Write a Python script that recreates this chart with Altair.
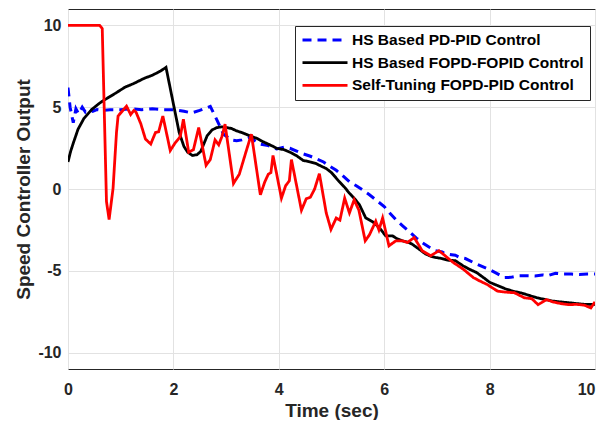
import altair as alt
import pandas as pd

# ---- data ----
names = ["HS Based PD-PID Control", "HS Based FOPD-FOPID Control", "Self-Tuning FOPD-PID Control"]
colors = ["#0000ff", "#000000", "#ff0000"]

t_pd = [0, 0.04, 0.10, 0.15, 0.20, 0.27, 0.33, 0.40, 0.47, 0.55, 0.65, 0.8, 1.0, 1.2, 1.4, 1.6, 1.8, 2.0,
        2.2, 2.35, 2.5, 2.7, 2.82, 2.95, 3.1, 3.2, 3.3, 3.45, 3.64, 3.8, 3.96, 4.1, 4.21, 4.35, 4.46, 4.6,
        4.71, 4.85, 4.96, 5.09, 5.2, 5.34, 5.47, 5.59, 5.72, 5.84, 6.0, 6.1, 6.22, 6.35, 6.5, 6.61, 6.72,
        6.85, 6.97, 7.1, 7.18, 7.35, 7.43, 7.54, 7.69, 7.8, 7.98, 8.1, 8.28, 8.4, 8.53, 8.7, 8.86, 9.0, 9.1,
        9.25, 9.4, 9.55, 9.7, 9.85, 10.0]
v_pd = [6.2, 5.0, 4.05, 4.9, 4.6, 5.0, 4.7, 4.9, 4.75, 4.85, 4.8, 4.85, 4.85, 4.9, 4.85, 4.9, 4.85, 4.85,
        4.75, 4.65, 4.8, 5.05, 4.26, 3.35, 3.0, 2.95, 3.0, 3.15, 2.75, 2.65, 2.45, 2.55, 2.49, 2.3, 2.15, 2.0,
        1.85, 1.65, 1.4, 1.14, 0.85, 0.44, 0.2, -0.06, -0.35, -0.66, -1.07, -1.45, -1.87, -2.25, -2.67, -3.0,
        -3.27, -3.55, -3.77, -3.85, -3.98, -4.05, -4.18, -4.25, -4.49, -4.65, -4.9, -5.1, -5.41, -5.4, -5.31,
        -5.3, -5.31, -5.25, -5.3, -5.15, -5.2, -5.2, -5.22, -5.2, -5.2]

t_fo = [0, 0.05, 0.1, 0.19, 0.3, 0.45, 0.6, 0.7, 0.9, 1.08, 1.25, 1.45, 1.6, 1.75, 1.86, 2.11, 2.2, 2.27,
        2.36, 2.45, 2.52, 2.64, 2.73, 2.82, 2.92, 3.01, 3.1, 3.2, 3.3, 3.45, 3.58, 3.7, 3.83, 3.96, 4.1, 4.21,
        4.33, 4.46, 4.6, 4.71, 4.8, 4.9, 5.0, 5.15, 5.25, 5.34, 5.44, 5.53, 5.65, 5.78, 5.91, 6.03, 6.16, 6.25,
        6.35, 6.45, 6.53, 6.65, 6.79, 6.88, 6.97, 7.1, 7.2, 7.35, 7.5, 7.6, 7.75, 7.9, 8.0, 8.15, 8.3, 8.45,
        8.6, 8.75, 8.9, 9.05, 9.2, 9.35, 9.5, 9.65, 9.8, 9.9, 10.0]
v_fo = [1.65, 2.3, 2.8, 3.65, 4.3, 4.86, 5.25, 5.46, 5.85, 6.22, 6.45, 6.77, 6.95, 7.2, 7.43, 3.45, 2.6, 2.25,
        2.05, 2.1, 2.3, 3.25, 3.6, 3.75, 3.8, 3.75, 3.7, 3.55, 3.45, 3.25, 3.1, 2.89, 2.7, 2.49, 2.4, 2.25,
        2.05, 1.75, 1.65, 1.55, 1.4, 1.25, 1.0, 0.44, 0.1, -0.26, -0.6, -0.96, -1.77, -2.0, -2.37, -2.87,
        -2.87, -3.05, -3.17, -3.25, -3.37, -3.65, -3.98, -4.1, -4.18, -4.25, -4.35, -4.38, -4.7, -4.88, -5.1,
        -5.45, -5.7, -5.9, -6.1, -6.25, -6.35, -6.5, -6.65, -6.75, -6.85, -6.9, -6.95, -7.0, -7.05, -7.05, -7.05]

t_st = [0, 0.60, 0.65, 0.73, 0.78, 0.855, 0.92, 0.95, 1.11, 1.19, 1.25, 1.29, 1.38, 1.47, 1.57, 1.66, 1.72,
        1.80, 1.94, 2.03, 2.13, 2.19, 2.29, 2.38, 2.48, 2.62, 2.70, 2.79, 2.86, 2.92, 2.98, 3.14, 3.25, 3.38,
        3.48, 3.65, 3.73, 3.80, 3.85, 3.89, 4.05, 4.13, 4.20, 4.24, 4.43, 4.52, 4.60, 4.68, 4.77, 4.90, 4.99,
        5.09, 5.16, 5.25, 5.34, 5.43, 5.52, 5.64, 5.72, 5.84, 5.90, 5.97, 6.09, 6.22, 6.35, 6.44, 6.57, 6.72,
        6.88, 7.04, 7.23, 7.31, 7.5, 7.69, 7.8, 7.95, 8.15, 8.3, 8.47, 8.66, 8.8, 8.92, 9.08, 9.2, 9.35, 9.5,
        9.65, 9.8, 9.92, 10.0]
v_st = [10, 10, 9.8, -0.76, -1.87, 0.04, 3.45, 4.46, 5.06, 4.55, 4.8, 4.7, 4.0, 3.05, 2.75, 3.45, 3.5,
        4.46, 2.35, 2.8, 3.2, 4.26, 2.25, 2.4, 3.75, 1.45, 1.8, 3.0, 2.7, 3.2, 3.96, 0.34, 0.9, 2.3,
        3.35, -0.36, 0.4, 0.9, 1.0, 2.05, -0.56, 0.2, 0.5, 1.8, -1.3, -0.6, -0.5, 0.0, 0.94, -1.46, -2.47,
        -1.77, -1.9, -0.56, -1.46, -0.66, -1.3, -3.17, -2.8, -1.97, -2.5, -1.77, -3.47, -3.17, -3.17, -3.27,
        -2.97, -3.77, -4.08, -3.77, -4.28, -4.49, -4.9, -5.41, -5.6, -5.83, -6.24, -6.3, -6.34, -6.65, -6.7,
        -7.07, -6.76, -6.9, -7.0, -7.07, -7.05, -7.1, -7.27, -6.9]

x_ticks = [0, 2, 4, 6, 8, 10]
y_ticks = [-10, -5, 0, 5, 10]

# ---- build chart ----
series_t = [t_pd, t_fo, t_st]
series_v = [v_pd, v_fo, v_st]
widths = [3, 2.8, 2.8]
dashes = [[9, 6], [1, 0], [1, 0]]

legend = alt.Legend(title=None)

x_axis = alt.Axis(values=x_ticks, title="Time (sec)", labelPadding=12, titlePadding=4, labelFlush=False,
                  labelAlign={"condition": {"test": "datum.value == 10", "value": "right"}, "value": "center"})
y_axis = alt.Axis(values=y_ticks, title="Speed Controller Output", labelPadding=7, titlePadding=4,
                  labelExpr="datum.value + ''")

layers = []
for name, ts, vs, w in zip(names, series_t, series_v, widths):
    d = pd.DataFrame({"t": ts, "v": vs, "series": name})
    layers.append(
        alt.Chart(d).mark_line(strokeWidth=w, clip=True).encode(
            x=alt.X("t:Q", scale=alt.Scale(domain=[0, 10], nice=False), axis=x_axis),
            y=alt.Y("v:Q", scale=alt.Scale(domain=[-11, 11], nice=False), axis=y_axis),
            color=alt.Color("series:N", scale=alt.Scale(domain=names, range=colors), legend=legend),
            strokeDash=alt.StrokeDash("series:N", scale=alt.Scale(domain=names, range=dashes), legend=legend),
        )
    )

chart = (
    alt.layer(*layers)
    .properties(width=527, height=360, autosize=alt.AutoSizeParams(type="none"),
                padding={"left": 60, "top": 1, "right": 2, "bottom": 51})
    .configure_view(stroke="#262626", strokeWidth=1)
    .configure_axis(grid=True, gridColor="#e2e2e2", gridWidth=1, ticks=False, domain=False,
                    labelFont="Liberation Sans", labelFontSize=16, labelFontWeight="bold", labelColor="#262626",
                    titleFont="Liberation Sans", titleFontSize=19, titleFontWeight="bold", titleColor="#262626")
    .configure_legend(orient="none", legendX=227, legendY=17, fillColor="white", strokeColor="#262626",
                      padding=6, cornerRadius=0, labelFont="Liberation Sans", labelFontSize=15.5,
                      labelFontWeight="bold", labelColor="#000000", labelLimit=320, symbolType="stroke",
                      symbolSize=2025, clipHeight=16, symbolStrokeWidth=2.8, rowPadding=5.7, labelOffset=3)
)

chart.save("out.html", embed_options={"renderer": "svg", "actions": False})
